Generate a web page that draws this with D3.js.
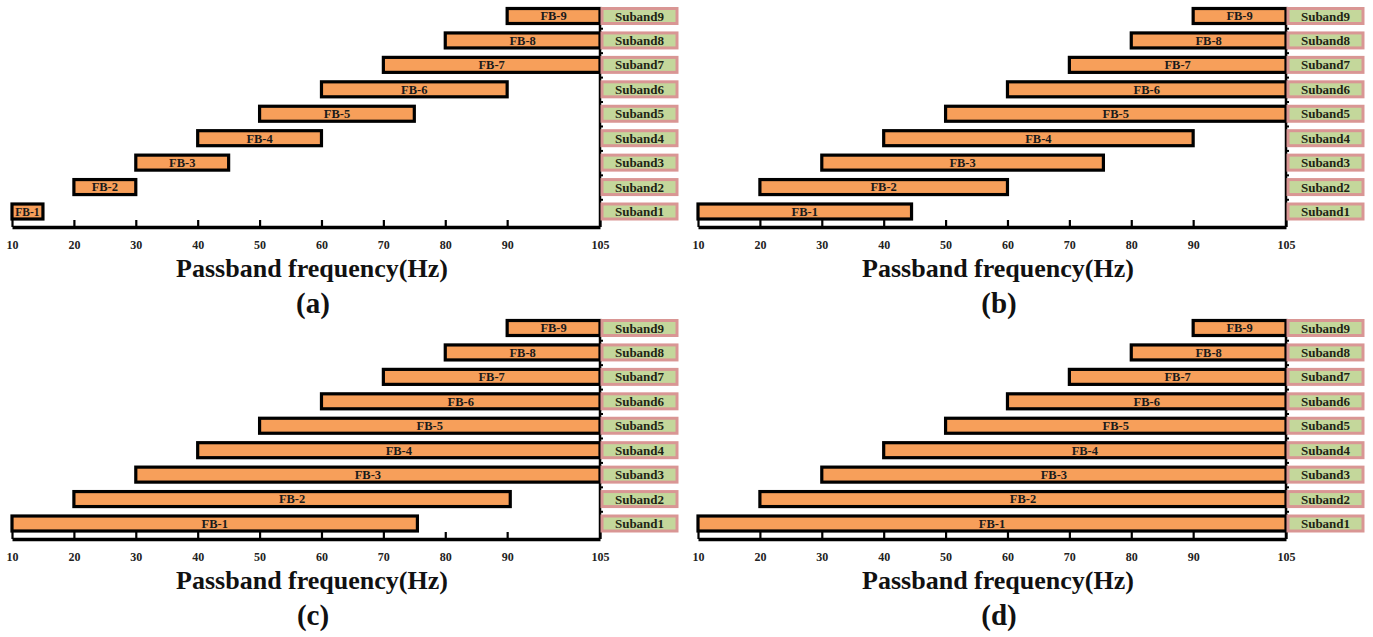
<!DOCTYPE html>
<html>
<head>
<meta charset="utf-8">
<script src="https://cdn.jsdelivr.net/npm/d3@7"></script>
<style>
  body { margin: 0; background: #fff; }
  text { font-family: "Liberation Serif", "Times New Roman", serif; font-weight: bold; }
</style>
</head>
<body>
<svg id="chart" width="1373" height="637"></svg>
<script>
// data
var tick_values = [10, 20, 30, 40, 50, 60, 70, 80, 90, 105];
var band_names = ['FB-1', 'FB-2', 'FB-3', 'FB-4', 'FB-5', 'FB-6', 'FB-7', 'FB-8', 'FB-9'];
var subband_names = ['Suband1', 'Suband2', 'Suband3', 'Suband4', 'Suband5', 'Suband6', 'Suband7', 'Suband8', 'Suband9'];
var low_edges = [10, 20, 30, 40, 50, 60, 70, 80, 90];
var high_a = [15, 30, 45, 60, 75, 90, 105, 105, 105];
var high_b = [44.5, 60, 75.5, 90, 105, 105, 105, 105, 105];
var high_c = [75.5, 90.5, 105, 105, 105, 105, 105, 105, 105];
var high_d = [105, 105, 105, 105, 105, 105, 105, 105, 105];
var panel_labels = ['(a)', '(b)', '(c)', '(d)'];
var axis_title = 'Passband frequency(Hz)';

var svg = d3.select('#chart');

var panels = [
  {left: 12,  top: 0,   high: high_a, label: panel_labels[0]},
  {left: 698, top: 0,   high: high_b, label: panel_labels[1]},
  {left: 12,  top: 312, high: high_c, label: panel_labels[2]},
  {left: 698, top: 312, high: high_d, label: panel_labels[3]}
];

var width = 588;
var axis_y = 227;
var bar_h = 15;

panels.forEach(p => {
  var g = svg.append('g').attr('transform', 'translate(' + p.left + ',' + p.top + ')');

  var x = d3.scaleLinear().domain([10, 105]).range([0, width]);
  var y = d3.scaleLinear().domain([1, 9]).range([211.5, 16]);

  var rows = band_names.map((name, i) => ({name: name, sub: subband_names[i], row: i + 1, lo: low_edges[i], hi: p.high[i]}));

  // right frame line with small marks between rows
  g.append('g')
    .attr('transform', 'translate(' + x(105) + ',0)')
    .call(d3.axisRight(y).tickValues([1.5, 2.5, 3.5, 4.5, 5.5, 6.5, 7.5, 8.5]).tickSize(3).tickSizeOuter(0).tickFormat(''))
    .call(a => a.select('.domain').remove())
    .call(a => a.selectAll('line').attr('stroke', '#000').attr('stroke-width', 2));
  g.append('line')
    .attr('x1', x(105)).attr('x2', x(105))
    .attr('y1', y(9) - 9).attr('y2', axis_y)
    .attr('stroke', '#000').attr('stroke-width', 2.5);

  // bottom axis, ticks pointing inward
  g.append('g')
    .attr('transform', 'translate(0,' + axis_y + ')')
    .call(d3.axisBottom(x).tickValues(tick_values).tickSize(-7).tickSizeOuter(0).tickPadding(13))
    .call(a => a.select('.domain').attr('stroke', '#000').attr('stroke-width', 3.5))
    .call(a => a.selectAll('.tick line').attr('stroke', '#000').attr('stroke-width', 2.2))
    .call(a => a.selectAll('.tick text').attr('font-size', 12).attr('fill', '#222'));

  // filter bank bars
  var bars = g.append('g').selectAll('g').data(rows).enter().append('g');
  bars.append('rect')
    .attr('x', d => x(d.lo))
    .attr('y', d => y(d.row) - bar_h / 2)
    .attr('width', d => x(d.hi) - x(d.lo))
    .attr('height', bar_h)
    .attr('fill', '#f79f5a')
    .attr('stroke', '#000')
    .attr('stroke-width', 3.2);
  bars.append('text')
    .attr('x', d => (x(d.lo) + x(d.hi)) / 2)
    .attr('y', d => y(d.row))
    .attr('dy', '0.35em')
    .attr('text-anchor', 'middle')
    .attr('font-size', d => (d.hi - d.lo < 8) ? 11.5 : 12.5)
    .attr('fill', '#1a1a1a')
    .text(d => d.name);

  // subband boxes
  var subs = g.append('g').selectAll('g').data(rows).enter().append('g');
  subs.append('rect')
    .attr('x', x(105) + 2)
    .attr('y', d => y(d.row) - bar_h / 2)
    .attr('width', 75)
    .attr('height', bar_h)
    .attr('fill', '#c4d79b')
    .attr('stroke', '#d99694')
    .attr('stroke-width', 3);
  subs.append('text')
    .attr('x', x(105) + 2 + 37.5)
    .attr('y', d => y(d.row))
    .attr('dy', '0.35em')
    .attr('text-anchor', 'middle')
    .attr('font-size', 13)
    .attr('fill', '#1f2414')
    .text(d => d.sub);

  g.append('text')
    .attr('x', width / 2 + 6)
    .attr('y', 277)
    .attr('text-anchor', 'middle')
    .attr('font-size', 26)
    .attr('fill', '#111')
    .text(axis_title);

  g.append('text')
    .attr('x', width / 2 + 7)
    .attr('y', 313)
    .attr('text-anchor', 'middle')
    .attr('font-size', 29)
    .attr('fill', '#111')
    .text(p.label);
});
</script>
</body>
</html>
